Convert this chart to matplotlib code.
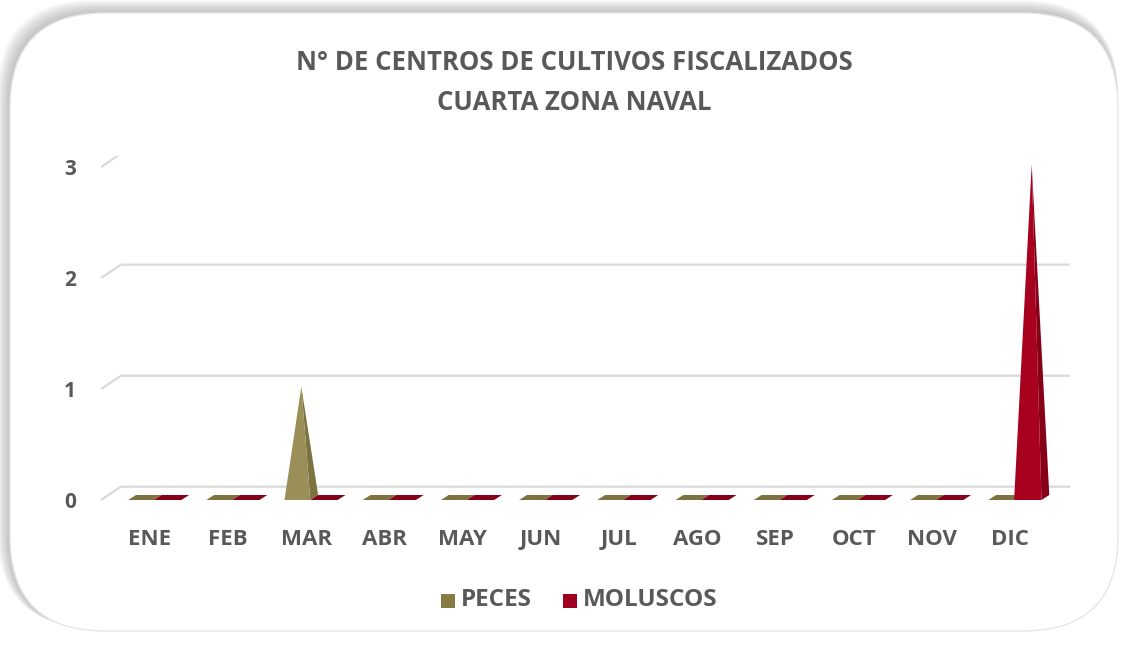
import numpy as np
import matplotlib.pyplot as plt
from matplotlib.patches import Polygon, FancyBboxPatch, Rectangle

meses = ["ENE", "FEB", "MAR", "ABR", "MAY", "JUN", "JUL", "AGO", "SEP", "OCT", "NOV", "DIC"]
peces = [0, 0, 1, 0, 0, 0, 0, 0, 0, 0, 0, 0]
moluscos = [0, 0, 0, 0, 0, 0, 0, 0, 0, 0, 0, 3]
series = ["PECES", "MOLUSCOS"]

col_front = ["#9a8f58", "#a8001f"]
col_side = ["#7d7340", "#860018"]
col_leg = ["#857b45", "#a00020"]
txt = "#595959"

plt.rcParams['font.family'] = ['Open Sans', 'DejaVu Sans']

W, H = 1128, 646
fig = plt.figure(figsize=(W / 100, H / 100), dpi=100)
fig.patch.set_facecolor("white")

# frame with soft shadow
bg = fig.add_axes([0, 0, 1, 1])
bg.set_xlim(0, W)
bg.set_ylim(H, 0)
bg.axis("off")
for k in range(14, 0, -1):
    bg.add_patch(FancyBboxPatch((10 - k * 0.9, 13 - k * 0.9), 1108 + k * 0.9, 618 + k * 0.6,
                                boxstyle="round,pad=0,rounding_size=95",
                                fc="#9a9a9a", ec="none", alpha=0.05))
bg.add_patch(FancyBboxPatch((10, 13), 1108, 618, boxstyle="round,pad=0,rounding_size=95",
                            fc="white", ec="#e6e6e6", lw=1))

# plot area (pixel extents -> figure fraction)
xl, xr = 101, 1070
ylo, yhi = -0.02, 3.1
ptop, pbot = 500 - 111 * yhi, 500 - 111 * ylo
ax = fig.add_axes([xl / W, 1 - pbot / H, (xr - xl) / W, (pbot - ptop) / H])
ax.set_xlim((xl - 150) / 78.2, (xr - 150) / 78.2)
ax.set_ylim(ylo, yhi)
ax.patch.set_alpha(0)
for s in ax.spines.values():
    s.set_visible(False)

# back-wall gridlines with 3D depth
gdx, gdy = 20 / 78.2, 0.12
x0, x1 = ax.get_xlim()
for v in [0, 1, 2, 3]:
    ax.plot([x0, x0 + gdx, x1], [v, v + gdy, v + gdy], color="#d9d9d9", lw=1.6, zorder=1,
            solid_capstyle="butt")

# pyramids
bdx, bdy = 0.1, 0.045
offs = [(-0.28, 0.05), (0.05, 0.4)]
for s, vals in enumerate([peces, moluscos]):
    for i, v in enumerate(vals):
        a, b = i + offs[s][0], i + offs[s][1]
        if v == 0:
            ax.add_patch(Polygon([(a, 0), (b, 0), (b + bdx, bdy), (a + bdx, bdy)],
                                 closed=True, fc=col_side[s], ec="none", zorder=3))
        else:
            apex = ((a + b) / 2 + bdx / 2, v + bdy / 2)
            ax.add_patch(Polygon([(b, 0), (b + bdx, bdy), apex], closed=True,
                                 fc=col_side[s], ec="none", zorder=3))
            ax.add_patch(Polygon([(a, 0), (b, 0), apex], closed=True,
                                 fc=col_front[s], ec="none", zorder=4))

ax.set_yticks([0, 1, 2, 3])
ax.set_yticklabels(["0", "1", "2", "3"])
ax.set_xticks(range(len(meses)))
ax.set_xticklabels(meses)
ax.tick_params(axis="y", length=0, pad=18, labelsize=15, labelcolor=txt)
ax.tick_params(axis="x", length=0, pad=19, labelsize=16, labelcolor=txt)
for lab in ax.get_xticklabels() + ax.get_yticklabels():
    lab.set_fontweight("bold")

fig.text(574 / W, 1 - 62 / H, "N° DE CENTROS DE CULTIVOS FISCALIZADOS", ha="center", va="center",
         fontsize=18.5, fontweight="bold", color=txt)
fig.text(574 / W, 1 - 103 / H, "CUARTA ZONA NAVAL", ha="center", va="center",
         fontsize=18.5, fontweight="bold", color=txt)

# legend
for k, (name, xs) in enumerate(zip(series, [441, 563])):
    bg.add_patch(Rectangle((xs, 594), 14, 14, fc=col_leg[k], ec="none"))
    bg.text(xs + 20, 600, name, ha="left", va="center", fontsize=17.5,
            fontweight="bold", color=txt)

fig.savefig("out.png", dpi=100)
